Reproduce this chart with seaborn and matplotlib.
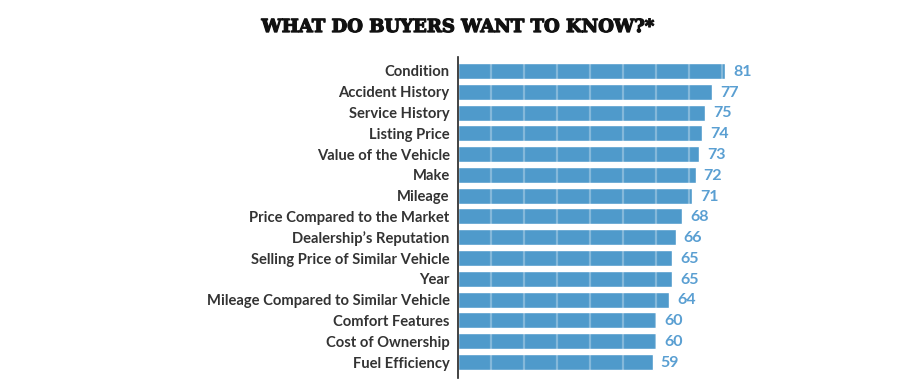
import matplotlib
matplotlib.use("Agg")
import matplotlib.pyplot as plt
import matplotlib.patheffects as pe
import seaborn as sns
import pandas as pd

categories = ["Condition", "Accident History", "Service History", "Listing Price",
              "Value of the Vehicle", "Make", "Mileage", "Price Compared to the Market",
              "Dealership\u2019s Reputation", "Selling Price of Similar Vehicle", "Year",
              "Mileage Compared to Similar Vehicle", "Comfort Features",
              "Cost of Ownership", "Fuel Efficiency"]
values = [81, 77, 75, 74, 73, 72, 71, 68, 66, 65, 65, 64, 60, 60, 59]
title = "WHAT DO BUYERS WANT TO KNOW?*"

df = pd.DataFrame({"category": categories, "value": values})

sns.set_theme(style="white")
plt.rcParams['font.family'] = ['Lato', 'DejaVu Sans']

fig = plt.figure(figsize=(9.2, 3.86), dpi=100)
ax = fig.add_axes([0.4978, 0.0207, 0.3587, 0.8316])

bar_color = "#4f9acb"
sns.barplot(data=df, x="value", y="category", orient="h", color=bar_color,
            saturation=1, width=0.77, ax=ax, zorder=2)

for g in range(10, 100, 10):
    ax.axvline(g, color="white", alpha=0.3, lw=1.6, zorder=3)

for i, v in enumerate(values):
    ax.text(v + 2.4, i + 0.04, str(v), va="center", ha="left", fontsize=11.5,
            fontweight="bold", color="#5a9fd2")

ax.set_xlim(0, 100)
ax.set_ylim(14.77, -0.67)
ax.set_xlabel("")
ax.set_ylabel("")
ax.set_xticks([])
for s in ["top", "right", "bottom"]:
    ax.spines[s].set_visible(False)
ax.spines["left"].set_color("#222222")
ax.spines["left"].set_linewidth(1.2)
ax.tick_params(axis="y", length=0, pad=6)
for lab in ax.get_yticklabels():
    lab.set_fontsize(10.6)
    lab.set_fontweight("bold")
    lab.set_color("#333333")

fig.text(0.4967, 0.93, title, ha="center", va="center", fontsize=13,
         fontweight="bold", family="DejaVu Serif", color="#111111",
         path_effects=[pe.withStroke(linewidth=0.9, foreground="#111111")])

fig.savefig("out.png", dpi=100, facecolor="white")
